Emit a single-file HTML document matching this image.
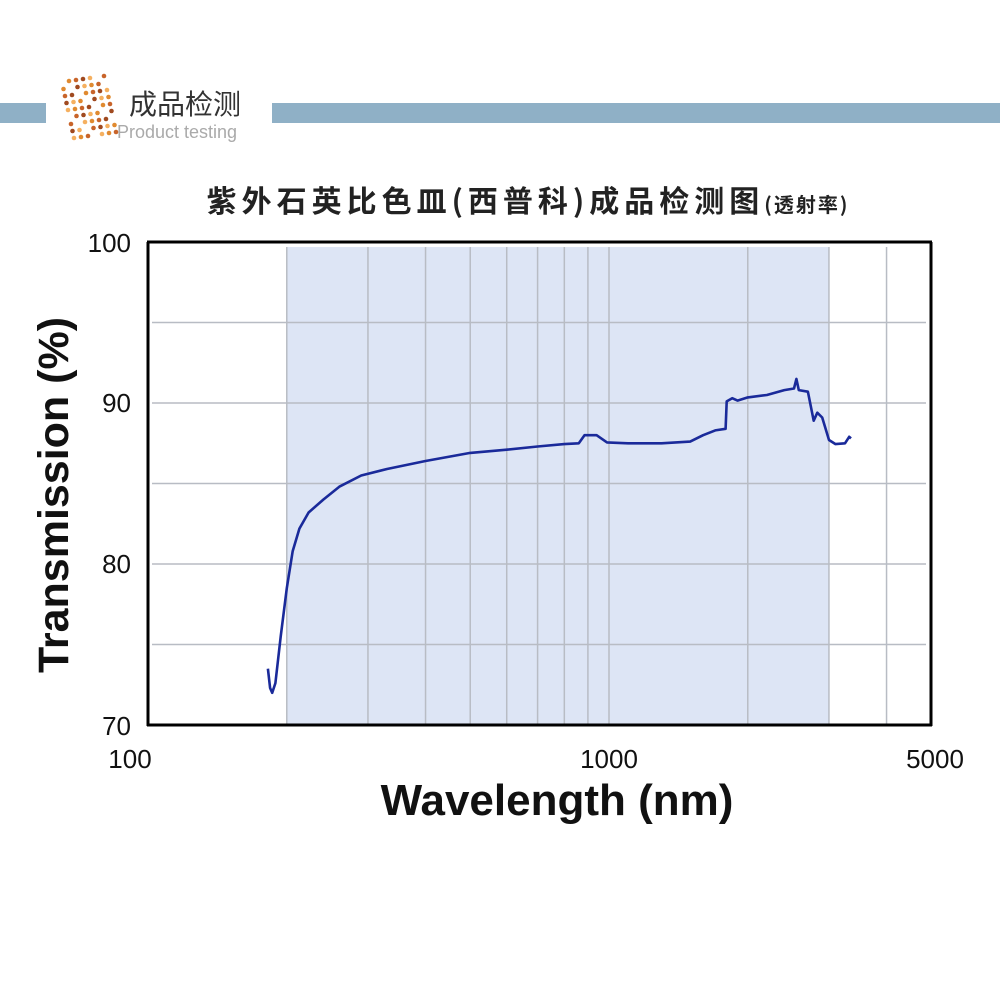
<!DOCTYPE html>
<html><head><meta charset="utf-8"><style>
body{margin:0;width:1000px;height:1000px;background:#fff;overflow:hidden;font-family:"Liberation Sans","Noto Sans CJK SC",sans-serif}
</style></head><body>
<svg id="s" width="1000" height="1000" xmlns="http://www.w3.org/2000/svg">
<rect x="0" y="103" width="46" height="20" fill="#8fb0c6"/>
<rect x="272" y="103" width="728" height="20" fill="#8fb0c6"/>
<g id="logo"></g>
<text x="129" y="114" font-size="28" fill="#333" font-family="Noto Sans CJK SC,sans-serif">成品检测</text>
<text x="117" y="138" font-size="18" fill="#aaa" font-family="Liberation Sans,sans-serif">Product testing</text>
<text x="528" y="212" text-anchor="middle" font-size="30" letter-spacing="5" font-weight="bold" fill="#222" font-family="Noto Sans CJK SC,sans-serif">紫外石英比色皿(西普科)成品检测图<tspan font-size="20" letter-spacing="2">(透射率)</tspan></text>
<rect x="287" y="247" width="542" height="478" fill="#dde5f5"/>
<g id="grid" stroke="#b8bcc4" stroke-width="1.5"></g>
<g id="curve"></g>
<line x1="148" y1="242" x2="148" y2="726" stroke="#000" stroke-width="3"/>
<line x1="147" y1="725" x2="932" y2="725" stroke="#000" stroke-width="3"/>
<line x1="147" y1="242" x2="932" y2="242" stroke="#000" stroke-width="3"/>
<line x1="931" y1="242" x2="931" y2="726" stroke="#000" stroke-width="3"/>
<g font-size="26" fill="#111" text-anchor="end">
<text x="131" y="252">100</text><text x="131" y="412">90</text><text x="131" y="573">80</text><text x="131" y="735">70</text>
</g>
<g font-size="26" fill="#111" text-anchor="middle">
<text x="130" y="768">100</text><text x="609" y="768">1000</text><text x="935" y="768">5000</text>
</g>
<text x="557" y="815" text-anchor="middle" font-size="44" font-weight="bold" fill="#111">Wavelength (nm)</text>
<text transform="translate(68,495) rotate(-90)" text-anchor="middle" font-size="43" font-weight="bold" fill="#111">Transmission (%)</text>
</svg>
<script>
function X(w){return 148+Math.log10(w/100)*461}
function Y(v){return 242+(100-v)*16.1}
var g=document.getElementById('grid'),h='';
[200,300,400,500,600,700,800,900,1000,2000,3000,4000].forEach(function(w){var x=X(w);h+='<line x1="'+x+'" y1="247" x2="'+x+'" y2="725"/>'});
[95,90,85,80,75].forEach(function(v){var y=Y(v);h+='<line x1="152" y1="'+y+'" x2="926" y2="'+y+'"/>'});
g.innerHTML=h;
var d=[[182,73.5],[184,72.3],[186,72],[189,72.6],[194,75.5],[200,78.5],[206,80.8],[213,82.2],[223,83.2],[240,84],[260,84.8],[290,85.5],[330,85.9],[400,86.4],[500,86.9],[600,87.1],[700,87.3],[800,87.45],[860,87.5],[885,88],[940,88],[990,87.55],[1100,87.5],[1300,87.5],[1500,87.6],[1600,88],[1700,88.3],[1790,88.4],[1800,90.1],[1850,90.3],[1900,90.15],[2000,90.35],[2200,90.5],[2400,90.8],[2520,90.9],[2550,91.5],[2580,90.8],[2700,90.7],[2780,88.9],[2830,89.4],[2900,89.1],[3000,87.7],[3100,87.45],[3250,87.5],[3320,87.9],[3350,87.8]];
var p='M'+d.map(function(a){return X(a[0]).toFixed(1)+','+Y(a[1]).toFixed(1)}).join(' L');
document.getElementById('curve').innerHTML='<path d="'+p+'" fill="none" stroke="#1a2a9a" stroke-width="2.6" stroke-linejoin="round"/>';
var l='',cols=['#f5b060','#e08a30','#c8642a','#a04a20'];
for(var i=0;i<7;i++)for(var j=0;j<9;j++){var x=62+i*7+j*1.5,y=82+j*7-i*2;if(((i*7+j*3)%5)!=0)l+='<circle cx="'+x+'" cy="'+(y+i*1)+'" r="2.3" fill="'+cols[(i+j)%4]+'"/>'}
document.getElementById('logo').innerHTML=l;
</script>
</body></html>
